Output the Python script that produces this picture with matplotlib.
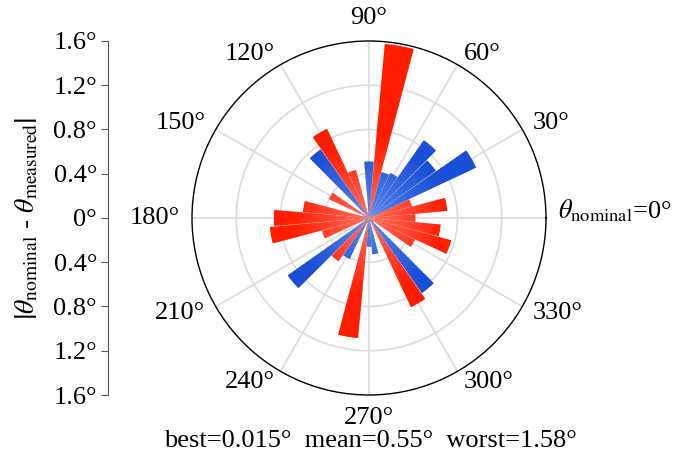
import numpy as np
import matplotlib.pyplot as plt
from matplotlib.colors import to_rgb

plt.rcParams.update({
    "font.family": "serif",
    "font.serif": ["Liberation Serif", "DejaVu Serif"],
    "mathtext.fontset": "stix",
    "font.size": 19,
})

# nominal angle of every measurement (deg) and absolute error (deg)
nominal_deg = np.arange(0, 360, 10)
abs_error = [0.42, 0.71, 0.40, 1.07, 0.74, 0.86, 0.45, 0.43, 1.58, 0.51,
             0.05, 0.45, 0.89, 0.76, 0.03, 0.40, 0.06, 0.60, 0.86, 0.90,
             0.44, 0.04, 0.90, 0.48, 0.41, 0.05, 1.09, 0.26, 0.33, 0.015,
             0.89, 0.83, 0.05, 0.46, 0.77, 0.65]
# +1 -> over (red), -1 -> under (blue)
err_sign = [1, 1, 1, -1, -1, -1, -1, -1, 1, -1,
            -1, 1, 1, -1, 1, 1, -1, 1, 1, 1,
            1, -1, -1, 1, -1, 1, 1, -1, -1, 1,
            1, -1, -1, 1, 1, 1]

r_ticks = [-1.6, -1.2, -0.8, -0.4, 0, 0.4, 0.8, 1.2, 1.6]
theta_ticks = np.arange(0, 360, 30)

RED_IN, RED_OUT = to_rgb("#ff7060"), to_rgb("#ff1c00")
BLUE_IN, BLUE_OUT = to_rgb("#5a86ea"), to_rgb("#1a4ed6")

W, H = 683, 461
fig = plt.figure(figsize=(W / 100, H / 100), dpi=100)

cx, cy, rad = 369, 218, 177
ax = fig.add_axes([(cx - rad) / W, (H - cy - rad) / H, 2 * rad / W, 2 * rad / H],
                  projection="polar")
ax.set_ylim(0, 1.6)
ax.set_axisbelow(True)

# bars drawn as stacked thin slices so the colour fades toward the centre
step = 0.02
width = np.deg2rad(9.6)
for ang, h, s in zip(nominal_deg, abs_error, err_sign):
    c_in, c_out = (RED_IN, RED_OUT) if s > 0 else (BLUE_IN, BLUE_OUT)
    edges = np.append(np.arange(0, h, step), h)
    bottoms = edges[:-1]
    heights = np.diff(edges)
    mids = bottoms + heights / 2
    f = np.clip(mids / 0.7, 0, 1)[:, None]
    cols = np.array(c_in) * (1 - f) + np.array(c_out) * f
    # small overlap hides the seams between slices
    heights = np.minimum(heights + 0.008, h - bottoms)
    ax.bar(np.full(len(bottoms), np.deg2rad(ang)), heights, width=width,
           bottom=bottoms, color=cols, linewidth=0, zorder=2)

ax.set_xticks(np.deg2rad(theta_ticks))
ax.set_xticklabels([])
ax.set_yticks([0.4, 0.8, 1.2])
ax.set_yticklabels([])
ax.tick_params(axis="x", direction="out", length=8, width=1, color="black")
ax.grid(color="#dcdcdc", linewidth=1.2)
ax.spines["polar"].set_color("black")
ax.spines["polar"].set_linewidth(1.0)

for a in theta_ticks:
    c = np.cos(np.deg2rad(a))
    s = np.sin(np.deg2rad(a))
    ha = "left" if c > 0.1 else ("right" if c < -0.1 else "center")
    va = "bottom" if s > 0.9 else ("top" if s < -0.9 else "center")
    if a == 0:
        ax.annotate(r"$\theta_{\mathrm{nominal}}$=0°", xy=(0, 1.6),
                    xytext=(9, 5), textcoords="offset points",
                    ha="left", va="center", annotation_clip=False)
    else:
        ax.text(np.deg2rad(a), 1.71, f"{a}°", ha=ha, va=va, clip_on=False)

# left scale spanning the diameter
ax2 = fig.add_axes([108 / W, (H - cy - rad) / H, 0.0001, 2 * rad / H])
ax2.set_ylim(-1.6, 1.6)
ax2.patch.set_visible(False)
for sp in ["top", "right", "bottom"]:
    ax2.spines[sp].set_visible(False)
ax2.spines["left"].set_color("#555555")
ax2.set_xticks([])
ax2.set_yticks(r_ticks)
ax2.set_yticklabels([f"{abs(v):g}°" for v in r_ticks])
ax2.tick_params(axis="y", length=5, color="#555555", pad=3)

fig.text(27 / W, 1 - 218 / H,
         r"$\left|\theta_{\mathrm{nominal}}\text{ - }\theta_{\mathrm{measured}}\right|$",
         rotation=90, ha="center", va="center", fontsize=20)

best, mean, worst = min(abs_error), np.mean(abs_error), max(abs_error)
fig.text(370 / W, 1 - 441 / H,
         f"best={best:.3f}°  mean={mean:.2f}°  worst={worst:.2f}°",
         ha="center", va="center")

fig.savefig("out.png", dpi=100)
